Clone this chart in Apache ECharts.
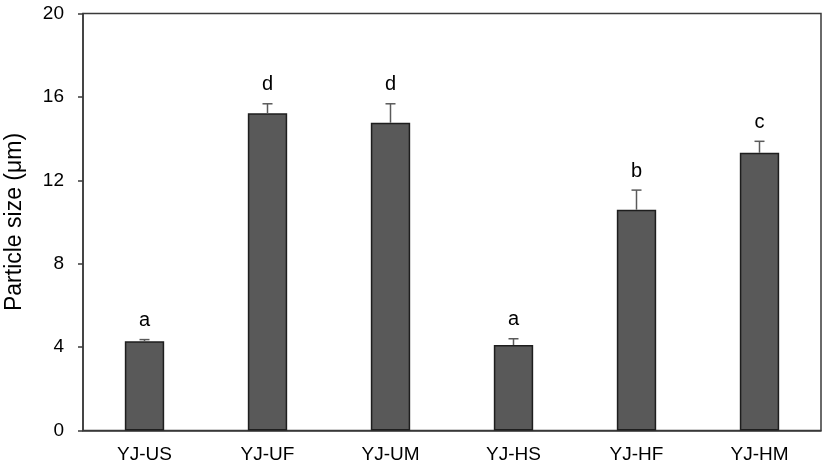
<!DOCTYPE html>
<html><head><meta charset="utf-8">
<script src="https://cdn.jsdelivr.net/npm/echarts@6/dist/echarts.min.js"></script>
<style>html,body{margin:0;padding:0;background:#fff}#c{width:827px;height:466px}</style>
</head><body><div id="c"></div>
<script>
const categories = ['YJ-US','YJ-UF','YJ-UM','YJ-HS','YJ-HF','YJ-HM'];
const means = [4.28, 15.21, 14.76, 4.10, 10.59, 13.32];
const errors = [0.08, 0.46, 0.91, 0.30, 0.94, 0.55];
const letters = ['a','d','d','a','b','c'];
const yTicks = [0, 4, 8, 12, 16, 20];

const font = 'Liberation Sans, Arial, sans-serif';
const chart = echarts.init(document.getElementById('c'));
chart.setOption({
  animation: false,
  grid: {left: 83, right: 6, top: 13.5, bottom: 35.5, containLabel: false, outerBoundsMode: 'none',
         show: true, borderColor: '#3a3a3a', borderWidth: 1.5},
  xAxis: {
    type: 'category', data: categories,
    axisLine: {lineStyle: {color: '#3a3a3a', width: 1.5}},
    axisTick: {show: false},
    axisLabel: {color: '#000', fontSize: 19, fontFamily: font, margin: 15}
  },
  yAxis: {
    type: 'value', min: yTicks[0], max: yTicks[yTicks.length-1], interval: 4,
    name: 'Particle size (μm)', nameLocation: 'middle', nameGap: 57,
    nameTextStyle: {color: '#000', fontSize: 23, fontFamily: font},
    axisLine: {show: true, lineStyle: {color: '#3a3a3a', width: 1.5}},
    axisTick: {show: true, inside: false, length: 5, lineStyle: {color: '#3a3a3a', width: 1.5}},
    splitLine: {show: false},
    axisLabel: {color: '#000', fontSize: 19, fontFamily: font, margin: 19}
  },
  series: [
    {
      type: 'bar', data: means, barWidth: '32%',
      itemStyle: {color: '#595959', borderColor: '#1e1e1e', borderWidth: 1.5},
      z: 2
    },
    {
      type: 'custom', z: 3,
      data: categories.map((c, i) => [i, means[i], errors[i]]),
      renderItem: function (params, api) {
        const i = api.value(0), m = api.value(1), e = api.value(2);
        const base = api.coord([i, m]);
        const top = api.coord([i, m + e]);
        const half = 5;
        return {
          type: 'group',
          children: [
            {type: 'line', shape: {x1: base[0], y1: base[1], x2: top[0], y2: top[1]}, style: {stroke: '#5a5a5a', lineWidth: 1.5}},
            {type: 'line', shape: {x1: top[0]-half, y1: top[1], x2: top[0]+half, y2: top[1]}, style: {stroke: '#5a5a5a', lineWidth: 1.5}},
            {type: 'text', x: top[0], y: top[1] - 9, style: {text: letters[params.dataIndex], fill: '#000', font: '20px ' + font, textAlign: 'center', textVerticalAlign: 'bottom'}}
          ]
        };
      }
    }
  ]
});
</script></body></html>
